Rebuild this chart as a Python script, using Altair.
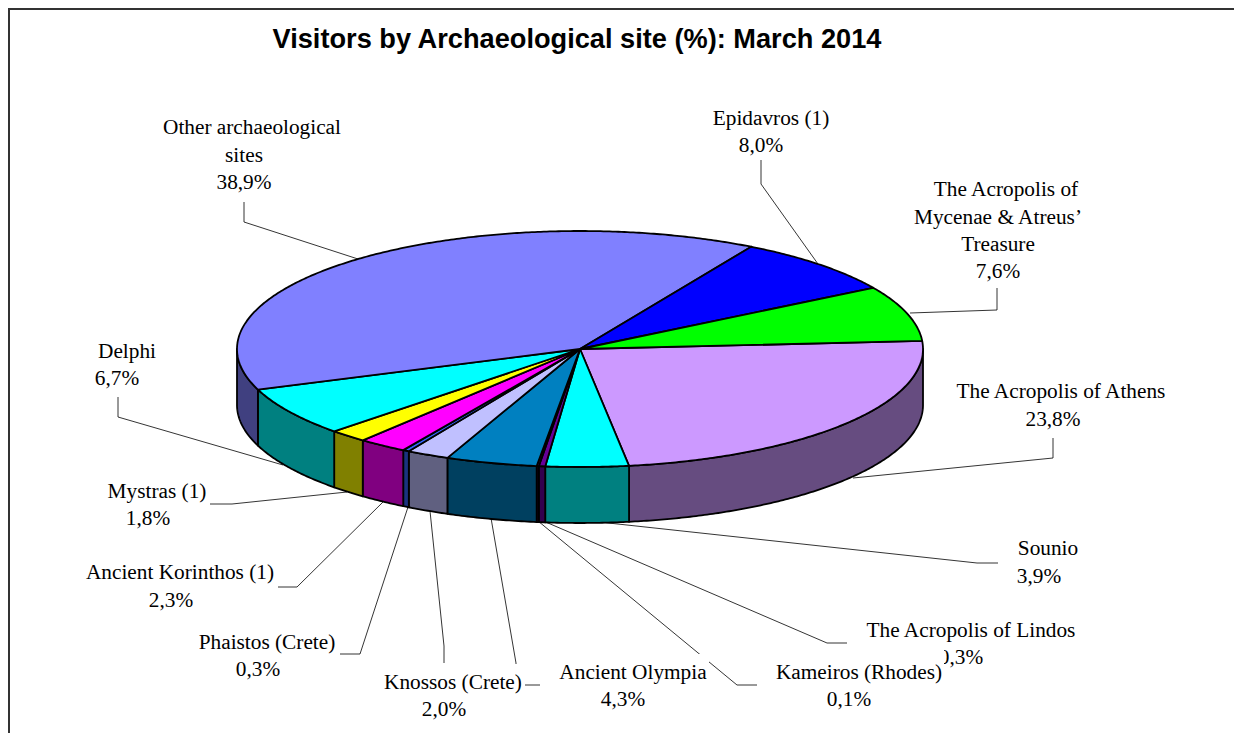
import math
import altair as alt
import pandas as pd

sites = ["The Acropolis of Athens", "Sounio", "The Acropolis of Lindos", "Kameiros (Rhodes)",
         "Ancient Olympia", "Knossos (Crete)", "Phaistos (Crete)", "Ancient Korinthos (1)",
         "Mystras (1)", "Delphi", "Other archaeological sites", "Epidavros (1)",
         "The Acropolis of Mycenae & Atreus' Treasure"]
shares = [23.8, 3.9, 0.3, 0.1, 4.3, 2.0, 0.3, 2.3, 1.8, 6.7, 38.9, 8.0, 7.6]
top_colors = ["#CC99FF", "#00FFFF", "#660099", "#800080", "#0080C0", "#C0C0FF", "#3366FF",
              "#FF00FF", "#FFFF00", "#00FFFF", "#8080FF", "#0000FF", "#00FF00"]
side_colors = ["#664C80", "#008080", "#33004D", "#400040", "#004060", "#606080", "#1A3380",
               "#800080", "#808000", "#008080", "#404080", "#000080", "#008000"]

title_text = "Visitors by Archaeological site (%): March 2014"

# (text, centre x, centre y) for each printed line
label_lines = [
    ("Other archaeological", 252, 127), ("sites", 244, 155), ("38,9%", 244, 182),
    ("Epidavros (1)", 771, 118), ("8,0%", 761, 145),
    ("The Acropolis of", 1006, 189), ("Mycenae & Atreus’", 998, 217), ("Treasure", 998, 244), ("7,6%", 998, 271),
    ("The Acropolis of Athens", 1061, 391), ("23,8%", 1053, 419),
    ("Sounio", 1048, 548), ("3,9%", 1039, 576),
    ("Ancient Korinthos (1)", 180, 572), ("2,3%", 171, 600),
    ("Mystras (1)", 157, 491), ("1,8%", 148, 518),
    ("Delphi", 127, 351), ("6,7%", 117, 378),
    ("Phaistos (Crete)", 267, 642), ("0,3%", 258, 669),
]
hidden_line_labels = [("The Acropolis of Lindos", 971, 630), ("0,3%", 961, 657)]
boxed_labels = [
    ("Knossos (Crete)", 453, 682), ("2,0%", 444, 709),
    ("Ancient Olympia", 633, 672), ("4,3%", 623, 699),
    ("Kameiros (Rhodes)", 859, 672), ("0,1%", 849, 699),
]
# white label backgrounds: x0, y0, x1, y1
label_boxes = [(383, 664, 525, 722), (557, 654, 709, 712), (773, 648, 944, 712)]

leaders = [
    [(244, 202), (244, 222), (358, 259)],
    [(761, 160), (761, 184), (818, 264)],
    [(997, 288), (997, 310), (910, 313)],
    [(1053, 438), (1053, 458), (853, 478)],
    [(998, 563), (977, 563), (590, 521)],
    [(847, 643), (827, 643), (541, 520)],
    [(757, 685), (737, 685), (538, 521)],
    [(540, 685), (516, 685), (516, 663), (491, 518)],
    [(444, 663), (444, 646), (430, 511)],
    [(340, 654), (360, 654), (408, 507)],
    [(278, 587), (297, 587), (383, 502)],
    [(210, 504), (232, 504), (347, 492)],
    [(118, 397), (118, 417), (283, 465)],
]

CX, CY, RX, RY, DEPTH = 580, 349, 343, 118, 56
START = -3.9


def arc(t0, t1, dy=0):
    n = max(2, int(abs(t1 - t0) * 2) + 1)
    return [[CX + RX * math.cos(math.radians(t0 + (t1 - t0) * i / (n - 1))),
             CY + dy + RY * math.sin(math.radians(t0 + (t1 - t0) * i / (n - 1)))] for i in range(n)]


def feature(kind, coords, site=""):
    return {"type": "Feature", "properties": {"site": site}, "geometry": {"type": kind, "coordinates": coords}}


def collection(features):
    return alt.InlineData(values={"type": "FeatureCollection", "features": features},
                          format=alt.DataFormat(property="features", type="json"))


tops, walls = [], []
angle = START
for site, share in zip(sites, shares):
    end = angle + share * 3.6
    tops.append(feature("Polygon", [[[CX, CY]] + arc(angle, end) + [[CX, CY]]], site))
    a, b = max(angle, 0), min(end, 180)
    if b > a:
        ring = arc(a, b) + arc(b, a, DEPTH)
        walls.append(feature("Polygon", [ring + [ring[0]]], site))
    angle = end

W, H = 1226, 725

frame = alt.Chart(collection([feature("LineString", [[9, 733], [9, 9], [1242, 9]])])).mark_geoshape(
    filled=False, stroke="#333333", strokeWidth=2)
lead = alt.Chart(collection([feature("LineString", [list(p) for p in l]) for l in leaders])).mark_geoshape(
    filled=False, stroke="#000000", strokeWidth=0.8)
boxes = alt.Chart(collection([feature("Polygon", [[[a, b], [c, b], [c, d], [a, d], [a, b]]]) for a, b, c, d in label_boxes])).mark_geoshape(
    fill="#FFFFFF", strokeWidth=0)
wall_layer = alt.Chart(collection(walls)).mark_geoshape(stroke="#000000", strokeWidth=1.8, strokeJoin="round").encode(
    color=alt.Color("properties.site:N", scale=alt.Scale(domain=sites, range=side_colors), legend=None))
top_layer = alt.Chart(collection(tops)).mark_geoshape(stroke="#000000", strokeWidth=1.8, strokeJoin="round").encode(
    color=alt.Color("properties.site:N", scale=alt.Scale(domain=sites, range=top_colors), legend=None))


def text_layer(rows, **kw):
    df = pd.DataFrame(rows, columns=["t", "x", "y"])
    return alt.Chart(df).mark_text(align="center", baseline="middle", color="#000000", **kw).encode(
        longitude=alt.Longitude("x:Q"), latitude=alt.Latitude("y:Q"), text=alt.Text("t:N"))


serif = dict(font="Liberation Serif", fontSize=21.3, dy=1)
layers = [
    frame,
    lead,
    text_layer(hidden_line_labels, **serif),
    boxes,
    wall_layer,
    top_layer,
    text_layer(label_lines + boxed_labels, **serif),
    text_layer([(title_text, 577, 38)], font="Liberation Sans", fontSize=27.2, fontWeight="bold", dy=2),
]
layers = [l.project(type="identity", scale=1, translate=[-8, -8]) for l in layers]

chart = alt.layer(*layers).resolve_scale(color="independent").properties(
    width=W, height=H, padding=0, autosize=alt.AutoSizeParams(type="none"),
    background="#FFFFFF").configure_view(strokeWidth=0)

chart.save("out.html", embed_options={"renderer": "svg", "actions": False})
